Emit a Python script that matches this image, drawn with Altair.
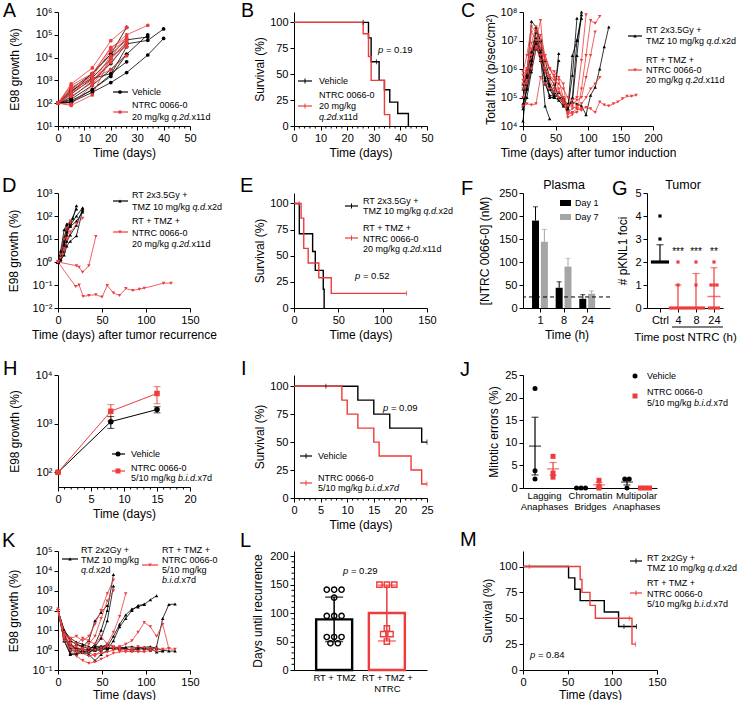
import json
import altair as alt
import pandas as pd

FONT = "Liberation Sans"
RED = "#EE3B3B"
BLK = "#000000"
GRY = "#A6A6A6"
LEG = 9
DUMMY = alt.InlineData(values=[{"k": 0}])
LOGLAB = "'10' + ['⁻²','⁻¹','⁰','¹','²','³','⁴','⁵','⁶','⁷','⁸'][round(log(datum.value)/LN10)+2]"

# ------------------------------------------------------------------ data
A_days = [0, 5, 13, 20, 26, 34, 40]
A_vehicle = [
    [100, 110, 400, 1500, 14000, 100000],
    [100, 420, 2000, 14000, 60000, 80000],
    [100, 180, 900, 5500, 40000, 57000, 180000],
    [100, 110, 300, 800, 2200, 13000, 69000],
    [100, 300, 2000, 14000, 210000],
    [100, 150, 600, 3000, 14000],
    [100, 250, 1200, 2000, 6500],
    [100, 130, 380, 1800, 30000],
    [100, 350, 1300, 9000, 45000],
]
A_ntrc = [
    [100, 700, 3500, 55000, 210000],
    [100, 600, 2000, 25000, 100000, 260000],
    [100, 80, 230, 10000, 80000],
    [100, 500, 1500, 20000, 60000],
    [100, 300, 1000, 6000, 40000],
    [100, 200, 800, 12000, 30000],
    [100, 400, 1200, 3000, 12000],
    [100, 90, 600, 9000, 50000],
    [100, 250, 1800, 28000, 70000],
]
B_veh_t = [0, 28, 29, 32, 34, 36, 39, 43]
B_veh_s = [100, 85, 62, 44, 35, 23, 12, 0]
B_ntrc_t = [0, 26, 28, 29, 34, 36]
B_ntrc_s = [100, 89, 67, 44, 11, 0]
B_veh_cens = [[26, 100], [31, 62]]
B_ntrc_cens = []
C_days = [0, 6, 13, 20, 27, 34, 41, 48, 55, 62, 69, 76, 83, 90, 97, 104, 111, 118,
          125, 132, 139, 146, 153, 160, 167, 174]
C_rt = [
    [1e5, 6e5, 4.7e7, 3e7, 3e6, 5e4, 1.8e4],
    [2e5, 1e6, 3e6, 1.2e7, 5e6, 3e5, 1.2e5, 1.1e5, 3.5e6],
    [1.5e4, 3e5, 2e6, 8e6, 2e6, 4e5, 1e5, 1e5, 1.5e5, 9e4, 4e4, 1e5, 1e7, 8e7],
    [6e4, 2e5, 1e6, 3e7, 1e7, 5e5, 2e5, 1e5, 8e4, 5e4, 4e4, 6e5, 6e7],
    [4e4, 1e5, 8e5, 5e6, 3e6, 1e6, 3e5, 1.5e5, 1e5, 8e4, 5e4, 7e4, 6e4, 5e4, 2.5e4,
     1.2e5, 2.3e5, 1e6, 6e6, 3e7],
    [1e5, 3e5, 2e6, 1e7, 4e6, 1e6, 2.5e5, 1.2e5, 1e5, 1e5, 4e4, 3e6, 1e7, 6e7],
    [5e4, 2e5, 1.5e6, 1e7, 3e6, 1e6, 2e5, 1.5e5, 2e6],
    [3e5, 5e5, 4e6, 2e7, 1e7, 2e6, 5e5, 3e5, 1e5, 6e4, 6e4, 7e4, 3e6, 1e8],
]
C_ntrc = [
    [3e5, 8e5, 2e7, 1e7, 5e7, 1e6, 6e5, 4e5, 3e5, 2e5, 1e5, 8e4, 1e5, 2e6, 8e7],
    [6e5, 1e6, 5e6, 1e7, 3e6, 3e6, 1e6, 8e5, 5e5, 3e5, 2.5e4, 3e4, 3e4, 2e5, 3e6, 5e7, 4e7, 7e7],
    [2e5, 4e5, 3e6, 6e6, 2e6, 8e5, 4e5, 2e5, 1e5, 6e4, 3e4, 4e4, 5e4, 6e4, 1e5, 2e5, 3e5, 5e5],
    [5e4, 6e4, 5.5e4, 6e4, 5e5, 3e5, 2e5, 1.5e5, 1e5, 7e4, 5e4, 5e4, 4e4, 4e4, 4.5e4, 4e4,
     3e4, 7e4, 5.5e4, 5e4, 6e4, 7e4, 9e4, 1.1e5, 1.1e5, 1.2e5],
    [1e5, 3e5, 1e6, 5e6, 1e7, 2e6, 1e6, 5e5, 2e5, 8e4, 2e4, 2.5e4],
    [8e5, 3e6, 3e7, 2e7, 1.5e7, 3e6, 1e6, 6e5, 4e5, 1e5, 5e4, 6e4, 8e4, 1e5, 5e5, 3e6, 2e7],
    [4e5, 1e6, 8e6, 3e7, 5e6, 1e6, 5e5, 3e5, 1.5e5, 1e5, 3e4, 3e4, 4e4, 3.5e4],
]
D_rt_days = [[0, 3, 7, 10, 14, 17, 21], [0, 3, 7, 10, 14, 21, 28], [0, 3, 7, 10, 14, 21, 28],
             [0, 3, 7, 10, 14, 21, 28], [0, 3, 7, 10, 14, 21, 28], [0, 3, 7, 10, 14, 21],
             [0, 3, 7, 10, 14]]
D_rt_vals = [[1, 2, 8, 40, 45, 80, 280], [1, 1.5, 5, 20, 40, 100, 230], [1, 2, 12, 30, 35, 60, 150],
             [1, 1.3, 3, 8, 15, 40, 200], [1, 1.2, 2, 5, 8, 14, 180], [1, 3, 25, 45, 55, 200],
             [1, 2, 6, 15, 50]]
D_ntrc_days = [[0, 3, 7, 10, 14], [0, 7, 14, 21, 28], [0, 21, 24, 28, 35, 43],
               [0, 20, 24, 28.5, 35, 43, 50, 56, 63, 70, 77, 85, 92.5, 98, 120, 128.5],
               [0, 3, 7, 10, 14]]
D_ntrc_vals = [[1, 2, 10, 30, 60], [1, 3, 20, 45, 80], [1, 0.69, 0.59, 0.36, 0.69, 13],
               [1, 0.087, 0.1, 0.032, 0.035, 0.038, 0.03, 0.095, 0.045, 0.035, 0.07, 0.058,
                0.066, 0.073, 0.12, 0.12],
               [1, 1.5, 4, 10, 50]]
E_rt_t = [0, 6, 21, 24, 33, 34]
E_rt_s = [100, 71, 54, 36, 18, 0]
E_ntrc_t = [0, 8, 11, 16, 28, 42, 127]
E_ntrc_s = [100, 86, 57, 43, 29, 14, 14]
E_rt_cens = []
E_ntrc_cens = [[6, 100], [127, 14]]
F_times = ["1", "8", "24"]
F_day1 = [190, 44, 20]
F_day1_sd = [30, 13, 9]
F_day7 = [144, 90, 31]
F_day7_sd = [27, 18, 6]
F_lloq = 24
G_cats = ["Ctrl", "4", "8", "24"]
G_vals = [[4, 3, 2, 2, 2, 2, 2, 2], [2, 1, 0, 0, 0, 0, 0, 0], [2, 1, 0, 0, 0, 0, 0, 0],
          [2, 1, 1, 1, 0, 0, 0, 0]]
G_mid = [2, 0, 0, 0.5]
G_lo = [2, 0, 0, 0]
G_hi = [2.75, 1, 1.5, 1.75]
G_sig = ["", "***", "***", "**"]
H_days = [0, 8, 15]
H_veh = [100, 1100, 1950]
H_veh_sem = [0, 300, 280]
H_ntrc = [100, 1800, 4170]
H_ntrc_sem = [0, 660, 1600]
I_veh_t = [0, 12, 15, 18, 24, 25]
I_veh_s = [100, 87.5, 75, 62.5, 50, 50]
I_ntrc_t = [0, 9, 10, 12, 15, 16, 22, 24, 25]
I_ntrc_s = [100, 87.5, 75, 62.5, 50, 37.5, 25, 12.5, 12.5]
I_veh_cens = [[6, 100], [25, 50]]
I_ntrc_cens = [[25, 12.5]]
J_cats = ["Lagging Anaphases", "Chromatin Bridges", "Multipolar Anaphases"]
J_veh = [[22, 3.8, 2], [0, 0, 0], [2, 2, 0]]
J_ntrc = [[7, 3.3, 2.4], [1.7, 0.4, 0.0], [0, 0, 0]]
K_days = [0, 7, 14, 21, 28, 35, 42, 49, 56, 63, 70, 77, 84, 91, 98, 105, 112, 119, 126, 133]
K_rt = [
    [100, 10, 3, 2, 1.5, 3, 30, 80, 180],
    [100, 5, 2, 1, 0.8, 1, 2, 10, 100, 6600],
    [100, 8, 3, 2, 1.5, 1.2, 1.5, 4, 30, 1700],
    [100, 3, 0.7, 0.7, 0.8, 0.8, 1, 1, 1.2, 1.3, 1.2, 1.4, 1.5, 1.3, 1.4, 1.5, 1.2, 1.0, 0.9, 0.9],
    [100, 5, 1, 1, 0.8, 0.6, 0.3, 0.6, 1, 3, 15, 40, 100, 180, 200, 350, 550],
    [100, 4, 2, 1.2, 1, 1.2, 1.5, 1.6, 1.5, 5, 20, 60, 120, 150, 210],
    [100, 6, 1.2, 1.3, 1.1, 1, 1.2, 1.4, 1.3, 1.2, 1.1, 1.2, 1.0, 1.1, 1.2, 1.0, 1.5, 40, 200, 210],
    [100, 3, 0.6, 0.6, 0.8, 0.9, 1, 1.1, 1.3, 1.2, 1.5, 1.2, 1.0, 1.4, 1.2, 1.3, 0.8, 0.9],
    [100, 10, 4, 2.5, 2, 1.5, 1.2, 1.4, 2, 1.5, 1.3, 1.2],
]
K_ntrc = [
    [120, 5, 4, 5, 3, 5, 20, 100, 700, 3500],
    [100, 8, 3, 2, 1.2, 2, 5, 40, 300, 1000],
    [100, 6, 2, 0.5, 0.3, 0.22, 0.25, 0.35, 0.5, 0.7, 0.8, 0.9, 0.8, 0.9, 0.8, 1, 0.9],
    [100, 4, 2, 1.5, 1, 0.8, 0.5, 1, 2, 8, 50, 700],
    [100, 5, 1.5, 1, 1, 1.2, 1, 1.3, 1.5, 1.2, 1.5, 2, 3, 8, 25, 15, 5, 20, 1.2],
    [100, 3, 1, 0.8, 0.7, 0.5, 0.6, 0.7, 0.8, 1, 1.2, 1, 1.2, 1.5, 1.3, 1.2, 1.2, 1.1, 1.2, 1.1],
    [100, 6, 3, 2, 4, 3, 2, 5, 2, 1.5, 1, 0.8, 1, 0.8, 0.9],
]
L_labels = [["RT + TMZ"], ["RT + TMZ +", "NTRC"]]
L_mean = [89, 100]
L_sd = [39, 49]
L_pts = [[141, 141, 141, 127, 95, 95, 95, 58, 58, 58, 47, 47],
         [150, 150, 150, 73, 63, 63, 50]]
M_rt_t = [0, 51, 58, 64, 91, 107, 127]
M_rt_s = [100, 89, 78, 67, 56, 42, 42]
M_ntrc_t = [0, 64, 66, 75, 81, 122, 126]
M_ntrc_s = [100, 87.5, 75, 62.5, 50, 25, 25]
M_rt_cens = [[113, 42], [127, 42]]
M_ntrc_cens = [[7, 100], [119, 50], [126, 25]]

# ------------------------------------------------------------------ helpers
CW = {" ": .278, "+": .584, "-": .333, ".": .278, "/": .278, "=": .584, "%": .889,
      "C": .722, "D": .722, "G": .778, "M": .833, "N": .722, "R": .722, "T": .611,
      "V": .667, "Z": .611, "a": .556, "b": .556, "c": .5, "d": .556, "e": .556,
      "g": .556, "h": .556, "i": .222, "k": .5, "l": .222, "m": .833, "p": .556,
      "q": .556, "s": .5, "x": .5, "y": .5}


def tw(s, size):
    return sum(CW.get(c, .556) for c in s) * size


def parts(s):
    return [(p, i % 2 == 1) for i, p in enumerate(s.split("_")) if p]


def txt(o, x, y, s, size=LEG, italic=False, color=BLK, align="left", baseline="middle"):
    return alt.Chart(DUMMY).mark_text(
        text=s, font=FONT, fontSize=size, fontStyle="italic" if italic else "normal",
        color=color, fill=color, align=align, baseline=baseline).encode(
        x=alt.value(x - o[0]), y=alt.value(y - o[1]))


def segs(o, x, y, s, size=LEG, color=BLK):
    out, cx = [], x
    for p, it in parts(s):
        lead = len(p) - len(p.lstrip(" "))
        cx += lead * CW[" "] * size
        q = p.strip(" ")
        out.append(txt(o, cx, y, q, size, it, color))
        cx += tw(q, size) + (len(p.rstrip(" ")) != len(p)) * CW[" "] * size
    return out


def leg(o, color, lines, tx, ty0, dy=10, line=None, ym=None, marker=None, msize=14,
        ktick=False, rect=None):
    L = []
    if line:
        x0, x1 = line
        L.append(alt.Chart(DUMMY).mark_rule(color=color, strokeWidth=1.2).encode(
            x=alt.value(x0 - o[0]), x2=alt.value(x1 - o[0]), y=alt.value(ym - o[1])))
        if ktick:
            xm = (x0 + x1) / 2
            L.append(alt.Chart(DUMMY).mark_rule(color=color, strokeWidth=1).encode(
                x=alt.value(xm - o[0]), y=alt.value(ym - o[1] - 2.5), y2=alt.value(ym - o[1] + 2.5)))
    if marker:
        shape, xm = marker
        L.append(alt.Chart(DUMMY).mark_point(shape=shape, filled=True, size=msize, color=color,
                                             opacity=1).encode(
            x=alt.value(xm - o[0]), y=alt.value(ym - o[1])))
    if rect:
        x0, x1, y0, y1 = rect
        L.append(alt.Chart(DUMMY).mark_rect(color=color).encode(
            x=alt.value(x0 - o[0]), x2=alt.value(x1 - o[0]), y=alt.value(y0 - o[1]),
            y2=alt.value(y1 - o[1])))
    for k, s in enumerate(lines):
        L += segs(o, tx, ty0 + k * dy, s)
    return L


def letter(ch, o, pos, size=20):
    return alt.Chart(DUMMY).mark_text(text=ch, font=FONT, fontSize=size, align="left",
                                      baseline="alphabetic", color=BLK, fill=BLK).encode(
        x=alt.value(pos[0] - o[0]), y=alt.value(pos[1] - o[1]))


def Xq(dom, vals, title, field="x", rng=None, **ax):
    sc = dict(domain=dom, nice=False, zero=False)
    if rng:
        sc["range"] = [0, rng]
    return alt.X(f"{field}:Q", scale=alt.Scale(**sc), axis=alt.Axis(values=vals, title=title, **ax))


def Ylog(dom, vals, title, field="y", **ax):
    return alt.Y(f"{field}:Q", scale=alt.Scale(type="log", domain=dom, nice=False),
                 axis=alt.Axis(values=vals, labelExpr=LOGLAB, title=title, **ax))


def Ylin(dom, vals, title, field="y", **ax):
    return alt.Y(f"{field}:Q", scale=alt.Scale(domain=dom, nice=False, zero=False),
                 axis=alt.Axis(values=vals, title=title, **ax))


def minor_x(vals, X, h, size=2.5):
    return alt.Chart(pd.DataFrame({"x": vals})).mark_rule(color=BLK, strokeWidth=1).encode(
        x=X, y=alt.value(h), y2=alt.value(h + size))


def minor_y(vals, Y, size=2.5):
    return alt.Chart(pd.DataFrame({"y": vals})).mark_rule(color=BLK, strokeWidth=1).encode(
        y=Y, x=alt.value(0), x2=alt.value(-size))


GROUPS = ["a", "b"]
COLOR = alt.Color("group:N", scale=alt.Scale(domain=GROUPS, range=[BLK, RED]), legend=None)


def grid_df(days, groups):
    rows = []
    for g, lines in groups:
        for i, vals in enumerate(lines):
            for d, v in zip(days, vals):
                rows.append(dict(x=d, y=v, group=g, id=f"{g}{i}"))
    return pd.DataFrame(rows)


def pair_df(groups):
    rows = []
    for g, dls, vls in groups:
        for i, (ds, vs) in enumerate(zip(dls, vls)):
            for d, v in zip(ds, vs):
                rows.append(dict(x=d, y=v, group=g, id=f"{g}{i}"))
    return pd.DataFrame(rows)


def growth_layers(df, X, Y, shapes, msize=14, lw=0.8):
    base = alt.Chart(df)
    ln = base.mark_line(strokeWidth=lw).encode(x=X, y=Y, color=COLOR, detail="id:N", order="x:Q")
    pt = base.mark_point(filled=True, size=msize, opacity=1).encode(
        x=X, y=Y, color=COLOR,
        shape=alt.Shape("group:N", scale=alt.Scale(domain=GROUPS, range=shapes), legend=None))
    return [ln, pt]


def km_layers(curves, cens, X, Y):
    rows = [dict(x=t, y=s, group=g) for g, ts, ss in curves for t, s in zip(ts, ss)]
    crow = [dict(x=c[0], y=c[1], group=g) for g, cl in cens for c in cl]
    out = [alt.Chart(pd.DataFrame(rows)).mark_line(interpolate="step-after", strokeWidth=1.4).encode(
        x=X, y=Y, color=COLOR, detail="group:N")]
    if crow:
        out.append(alt.Chart(pd.DataFrame(crow)).mark_tick(orient="vertical", size=5, thickness=1).encode(
            x=X, y=Y, color=COLOR))
    return out


def spread(vals, step):
    offs = [0.0] * len(vals)
    seen = {}
    for i, v in enumerate(vals):
        seen.setdefault(v, []).append(i)
    for v, idx in seen.items():
        n = len(idx)
        for k, i in enumerate(idx):
            offs[i] = (k - (n - 1) / 2) * step
    return offs


ORIG = {"A": (58, 14), "B": (294, 14), "C": (523, 14), "D": (58, 195), "E": (294, 195),
        "F": (523, 195), "G": (647, 195), "H": (58, 377), "I": (294, 377), "J": (523, 377),
        "K": (58, 553), "L": (294, 553), "M": (523, 553)}
P = 9.5
CELL3 = 87   # layout width of the third column (C, F, J, M); C/J/M draw wider via scale range

# A
o = ORIG["A"]
XA = Xq([0, 50], [0, 10, 20, 30, 40, 50], "Time (days)")
YA = Ylog([10, 1e6], [10, 100, 1e3, 1e4, 1e5, 1e6], "E98 growth (%)", titlePadding=14)
dfA = grid_df(A_days, [("a", A_vehicle), ("b", A_ntrc)])
A = alt.layer(
    *growth_layers(dfA, XA, YA, ["circle", "circle"]),
    minor_x([v for v in range(0, 51, 2) if v % 10], XA, 114),
    *leg(o, BLK, ["Vehicle"], 132, 94, line=(113, 128), ym=94, marker=("circle", 120)),
    *leg(o, RED, ["NTRC 0066-0", "20 mg/kg _q.2d._x11d"], 132, 107, dy=12, line=(113, 128),
         ym=114, marker=("circle", 120)),
    letter("A", o, (3, 18.5), 19.5),
).properties(width=132, height=114)

# B
o = ORIG["B"]
XB = Xq([0, 50], [0, 10, 20, 30, 40, 50], "Time (days)")
YB = Ylin([0, 110], [0, 25, 50, 75, 100], "Survival (%)", titlePadding=3)
B = alt.layer(
    *km_layers([("a", B_veh_t, B_veh_s), ("b", B_ntrc_t, B_ntrc_s)],
               [("a", B_veh_cens), ("b", B_ntrc_cens)], XB, YB),
    minor_x([v for v in range(0, 51, 2) if v % 10], XB, 114),
    *leg(o, BLK, ["Vehicle"], 319, 83, line=(298, 312), ym=83, ktick=True),
    *leg(o, RED, ["NTRC 0066-0", "20 mg/kg", "_q.2d._x11d"], 319, 97, dy=11, line=(298, 312),
         ym=108, ktick=True),
    *segs(o, 378, 52, "_p_ = 0.19", P),
    letter("B", o, (241, 18.5), 19.5),
).properties(width=133, height=114)

# C
o = ORIG["C"]
XC = Xq([0, 200], [0, 50, 100, 150, 200], "Time (days) after tumor induction", rng=130)
YC = Ylog([1e4, 1e8], [1e4, 1e5, 1e6, 1e7, 1e8], "Total flux (p/sec/cm²)", titlePadding=3)
dfC = grid_df(C_days, [("a", C_rt), ("b", C_ntrc)])
C = alt.layer(
    *growth_layers(dfC, XC, YC, ["triangle-up", "triangle-down"], msize=12),
    *leg(o, BLK, ["RT 2x3.5Gy +", "TMZ 10 mg/kg _q.d._x2d"], 646, 32, dy=11, line=(628, 642),
         ym=38, marker=("triangle-up", 635), msize=12),
    *leg(o, RED, ["RT + TMZ +", "NTRC 0066-0", "20 mg/kg _q.2d._x11d"], 646, 62, dy=10,
         line=(628, 642), ym=72, marker=("triangle-down", 635), msize=12),
    letter("C", o, (461, 18.5), 19.5),
).properties(width=CELL3, height=114)

# D
o = ORIG["D"]
XD = Xq([0, 150], [0, 50, 100, 150], "Time (days) after tumor recurrence")
YD = Ylog([1e-2, 1e3], [1e-2, 1e-1, 1, 10, 100, 1e3], "E98 growth (%)", titlePadding=12)
dfD = pair_df([("a", D_rt_days, D_rt_vals), ("b", D_ntrc_days, D_ntrc_vals)])
D = alt.layer(
    *growth_layers(dfD, XD, YD, ["triangle-up", "triangle-down"], msize=12),
    *leg(o, BLK, ["RT 2x3.5Gy +", "TMZ 10 mg/kg _q.d._x2d"], 132, 197, dy=11.5, line=(113, 128),
         ym=203, marker=("triangle-up", 120), msize=12),
    *leg(o, RED, ["RT + TMZ +", "NTRC 0066-0", "20 mg/kg _q.2d._x11d"], 132, 223, dy=11.5,
         line=(113, 128), ym=234, marker=("triangle-down", 120), msize=12),
    letter("D", o, (2, 194)),
).properties(width=132, height=115)

# E
o = ORIG["E"]
XE = Xq([0, 150], [0, 50, 100, 150], "Time (days)")
YE = Ylin([0, 110], [0, 25, 50, 75, 100], "Survival (%)", titlePadding=3)
E = alt.layer(
    *km_layers([("a", E_rt_t, E_rt_s), ("b", E_ntrc_t, E_ntrc_s)],
               [("a", E_rt_cens), ("b", E_ntrc_cens)], XE, YE),
    *leg(o, BLK, ["RT 2x3.5Gy +", "TMZ 10 mg/kg _q.d._x2d"], 363, 203, dy=10, line=(345, 358),
         ym=208, ktick=True),
    *leg(o, RED, ["RT + TMZ +", "NTRC 0066-0", "20 mg/kg _q.2d._x11d"], 363, 230, dy=10.5,
         line=(345, 358), ym=240, ktick=True),
    *segs(o, 355, 278, "_p_ = 0.52", P),
    letter("E", o, (240, 194)),
).properties(width=133, height=115)

# F
o = ORIG["F"]
fpx = 26.7
dfF = pd.DataFrame(
    [dict(x=i - 5 / fpx, day="Day 1", y=v, hi=v + e) for i, (v, e) in enumerate(zip(F_day1, F_day1_sd))] +
    [dict(x=i + 5 / fpx, day="Day 7", y=v, hi=v + e) for i, (v, e) in enumerate(zip(F_day7, F_day7_sd))])
XF = Xq([-0.506, 2.753], [0, 1, 2], "Time (h)", labelExpr=json.dumps(F_times) + "[datum.value]")
FCOL = alt.Color("day:N", scale=alt.Scale(domain=["Day 1", "Day 7"], range=[BLK, GRY]), legend=None)
YF = lambda f: Ylin([0, 250], [0, 50, 100, 150, 200, 250], "[NTRC 0066-0] (nM)", field=f, titlePadding=7)
F = alt.layer(
    alt.Chart(dfF).mark_bar(size=7).encode(x=XF, y=YF("y"), color=FCOL),
    alt.Chart(dfF).mark_rule(strokeWidth=1).encode(x=XF, y=YF("y"), y2="hi:Q", color=FCOL),
    alt.Chart(dfF).mark_tick(orient="horizontal", size=5, thickness=1).encode(
        x=XF, y=YF("hi"), color=FCOL),
    alt.Chart(pd.DataFrame({"y": [F_lloq]})).mark_rule(strokeDash=[4, 3], color=BLK, strokeWidth=1).encode(y=YF("y")),
    *leg(o, BLK, ["Day 1"], 575, 205, rect=(560, 571, 202, 208)),
    *leg(o, GRY, ["Day 7"], 575, 219, rect=(560, 571, 216, 222)),
    txt(o, 564, 187, "Plasma", size=12.5, align="center", color=BLK),
    letter("F", o, (461, 197)),
).properties(width=CELL3, height=115)

# G
o = ORIG["G"]
gstep = 3 / 18.0
rows = []
for i, vals in enumerate(G_vals):
    for v, off in zip(vals, spread(vals, gstep)):
        rows.append(dict(x=i + off, y=v, group="a" if i == 0 else "b"))
dfG = pd.DataFrame(rows)
dfGs = pd.DataFrame(dict(x=list(range(4)), mid=G_mid, lo=G_lo, hi=G_hi, sig=G_sig,
                         group=["a", "b", "b", "b"], ys=[2.45] * 4))
XG = Xq([-0.72, 3.5], [0, 1, 2, 3], "Time post NTRC (h)",
        labelExpr=json.dumps(G_cats) + "[datum.value]", titlePadding=6, titleFontSize=11.5)
YG = lambda f: Ylin([0, 5], [0, 1, 2, 3, 4, 5], "# pKNL1 foci", field=f, titlePadding=5)
G = alt.layer(
    alt.Chart(dfGs).mark_rule(strokeWidth=1.2).encode(x=XG, y=YG("lo"), y2="hi:Q", color=COLOR),
    alt.Chart(dfGs).mark_tick(orient="horizontal", size=13, thickness=1.5).encode(x=XG, y=YG("mid"), color=COLOR),
    alt.Chart(dfGs).mark_tick(orient="horizontal", size=7, thickness=1.2).encode(x=XG, y=YG("hi"), color=COLOR),
    alt.Chart(dfG).mark_square(size=10, opacity=1).encode(x=XG, y=YG("y"), color=COLOR),
    alt.Chart(dfGs).mark_text(font=FONT, fontSize=10, baseline="middle", color=BLK, fill=BLK).encode(
        x=XG, y=YG("ys"), text="sig:N"),
    alt.Chart(DUMMY).mark_rule(color=BLK, strokeWidth=1).encode(
        x=alt.value(25), x2=alt.value(76), y=alt.value(134)),
    txt(o, 683, 187, "Tumor", size=12.5, align="center", color=BLK),
    letter("G", o, (612, 197)),
).properties(width=76, height=115)

# H
o = ORIG["H"]
dfH = pd.DataFrame(
    [dict(x=d, y=m, lo=m - s, hi=m + s, group="a", err=s) for d, m, s in zip(H_days, H_veh, H_veh_sem)] +
    [dict(x=d, y=m, lo=m - s, hi=m + s, group="b", err=s) for d, m, s in zip(H_days, H_ntrc, H_ntrc_sem)])
dfHe = dfH[dfH["err"] > 0]
XH = Xq([0, 20], [0, 5, 10, 15, 20], "Time (days)")
YH = lambda f: Ylog([50, 1e4], [100, 1e3, 1e4], "E98 growth (%)", field=f, titlePadding=14)
H = alt.layer(
    alt.Chart(dfH).mark_line(strokeWidth=1).encode(x=XH, y=YH("y"), color=COLOR),
    alt.Chart(dfHe).mark_rule(strokeWidth=1).encode(x=XH, y=YH("lo"), y2="hi:Q", color=COLOR),
    alt.Chart(dfHe).mark_tick(orient="horizontal", size=7, thickness=1).encode(x=XH, y=YH("lo"), color=COLOR),
    alt.Chart(dfHe).mark_tick(orient="horizontal", size=7, thickness=1).encode(x=XH, y=YH("hi"), color=COLOR),
    alt.Chart(dfH).mark_point(filled=True, size=30, opacity=1).encode(
        x=XH, y=YH("y"), color=COLOR,
        shape=alt.Shape("group:N", scale=alt.Scale(domain=GROUPS, range=["circle", "square"]), legend=None)),
    minor_x([v for v in range(0, 21) if v % 5], XH, 112),
    *leg(o, BLK, ["Vehicle"], 131, 456, line=(112, 125), ym=456, marker=("circle", 118), msize=25),
    *leg(o, RED, ["NTRC 0066-0", "5/10 mg/kg _b.i.d._x7d"], 131, 470, dy=10, line=(112, 125),
         ym=473, marker=("square", 118), msize=25),
    letter("H", o, (3, 377)),
).properties(width=132, height=112)

# I
o = ORIG["I"]
XI = Xq([0, 25], [0, 5, 10, 15, 20, 25], "Time (days)")
YI = Ylin([0, 110], [0, 25, 50, 75, 100], "Survival (%)", titlePadding=3)
I = alt.layer(
    *km_layers([("a", I_veh_t, I_veh_s), ("b", I_ntrc_t, I_ntrc_s)],
               [("a", I_veh_cens), ("b", I_ntrc_cens)], XI, YI),
    minor_x([v for v in range(0, 26) if v % 5], XI, 123),
    *leg(o, BLK, ["Vehicle"], 318, 458, line=(300, 312), ym=458, ktick=True),
    *leg(o, RED, ["NTRC 0066-0", "5/10 mg/kg _b.i.d.x7d_"], 318, 480, dy=10, line=(300, 312),
         ym=485, ktick=True),
    *segs(o, 383, 410, "_p_ = 0.09", P),
    letter("I", o, (241, 377)),
).properties(width=133, height=123)

# J
o = ORIG["J"]
jpx = 134 / (2.457 + 0.457)
rows, srows = [], []
for i in range(3):
    for g, pts, dx in (("a", J_veh[i], -9), ("b", J_ntrc[i], 9)):
        for v, off in zip(pts, spread(pts, 4.5 / jpx)):
            rows.append(dict(x=i + dx / jpx + off, y=v, group=g))
        s = pd.Series(pts, dtype=float)
        m, se = s.mean(), s.std() / len(s) ** 0.5
        srows.append(dict(x=i + dx / jpx, m=m, lo=max(m - se, 0), hi=m + se, group=g))
dfJ, dfJs = pd.DataFrame(rows), pd.DataFrame(srows)
XJ = Xq([-0.457, 2.457], [0, 1, 2], None, rng=134, ticks=False,
        labelExpr=json.dumps([c.split(" ") for c in J_cats]) + "[datum.value]", labelFontSize=9.5)
YJ = lambda f: Ylin([0, 25], [0, 5, 10, 15, 20, 25], "Mitotic errors (%)", field=f, titlePadding=4)
J = alt.layer(
    alt.Chart(dfJs).mark_rule(strokeWidth=1.2).encode(x=XJ, y=YJ("lo"), y2="hi:Q", color=COLOR),
    alt.Chart(dfJs).mark_tick(orient="horizontal", size=12, thickness=1.3).encode(x=XJ, y=YJ("m"), color=COLOR),
    alt.Chart(dfJs).mark_tick(orient="horizontal", size=7, thickness=1.2).encode(x=XJ, y=YJ("hi"), color=COLOR),
    alt.Chart(dfJs).mark_tick(orient="horizontal", size=7, thickness=1.2).encode(x=XJ, y=YJ("lo"), color=COLOR),
    alt.Chart(dfJ).mark_point(filled=True, size=25, opacity=1).encode(
        x=XJ, y=YJ("y"), color=COLOR,
        shape=alt.Shape("group:N", scale=alt.Scale(domain=GROUPS, range=["circle", "square"]), legend=None)),
    *leg(o, BLK, ["Vehicle"], 647, 378, ym=378, marker=("circle", 635), msize=25),
    *leg(o, RED, ["NTRC 0066-0", "5/10 mg/kg _b.i.d._x7d"], 647, 394, dy=11, ym=398,
         marker=("square", 635), msize=25),
    letter("J", o, (460, 378)),
).properties(width=CELL3, height=113)

# K
o = ORIG["K"]
XK = Xq([0, 150], [0, 50, 100, 150], "Time (days)", titlePadding=2)
YK = Ylog([0.1, 1e5], [0.1, 1, 10, 100, 1e3, 1e4, 1e5], "E98 growth (%)", titlePadding=12)
dfK = grid_df(K_days, [("a", K_rt), ("b", K_ntrc)])
K = alt.layer(
    *growth_layers(dfK, XK, YK, ["triangle-up", "triangle-down"], msize=12),
    *leg(o, BLK, ["RT 2x2Gy +", "TMZ 10 mg/kg", "_q.d._x2d"], 81, 552, dy=10, line=(62, 78),
         ym=561, marker=("triangle-up", 70), msize=12),
    *leg(o, RED, ["RT + TMZ +", "NTRC 0066-0", "5/10 mg/kg", "_b.i.d._x7d"], 162, 552, dy=10,
         line=(142, 158), ym=567, marker=("triangle-down", 150), msize=12),
    letter("K", o, (2, 549)),
).properties(width=132, height=119)

# L
o = ORIG["L"]
lpx = 57.0
rows = []
for i, pts in enumerate(L_pts):
    for v, off in zip(pts, spread(pts, 8 / lpx)):
        rows.append(dict(x=i + off, y=v, group=GROUPS[i]))
dfL = pd.DataFrame(rows)
dfLs = pd.DataFrame(dict(x=[0, 1], y=L_mean, lo=[m - s for m, s in zip(L_mean, L_sd)],
                         hi=[m + s for m, s in zip(L_mean, L_sd)], group=GROUPS))
XL = Xq([-0.667, 1.667], [0, 1], None, ticks=False, labelFontSize=9.5,
        labelExpr=json.dumps(L_labels) + "[datum.value]")
YL = lambda f: Ylin([0, 209], [0, 50, 100, 150, 200], "Days until recurrence", field=f, titlePadding=5)
L = alt.layer(
    alt.Chart(dfLs).mark_bar(size=36, fill="white", strokeWidth=2.4).encode(
        x=XL, y=YL("y"), stroke=alt.Stroke("group:N", scale=alt.Scale(domain=GROUPS, range=[BLK, RED]), legend=None)),
    alt.Chart(dfLs).mark_rule(strokeWidth=1.5).encode(x=XL, y=YL("lo"), y2="hi:Q", color=COLOR),
    alt.Chart(dfLs).mark_tick(orient="horizontal", size=18, thickness=1.5).encode(x=XL, y=YL("lo"), color=COLOR),
    alt.Chart(dfLs).mark_tick(orient="horizontal", size=18, thickness=1.5).encode(x=XL, y=YL("hi"), color=COLOR),
    alt.Chart(dfL).mark_point(filled=False, size=28, strokeWidth=1.4, opacity=1).encode(
        x=XL, y=YL("y"), color=COLOR,
        shape=alt.Shape("group:N", scale=alt.Scale(domain=GROUPS, range=["circle", "square"]), legend=None)),
    minor_y([v for v in range(10, 201, 10) if v % 50], YL("y")),
    *segs(o, 343, 573, "_p_ = 0.29", P),
    letter("L", o, (240, 549)),
).properties(width=133, height=119)

# M
o = ORIG["M"]
XM = Xq([0, 150], [0, 50, 100, 150], "Time (days)", rng=134, titlePadding=2)
YM = Ylin([0, 115], [0, 25, 50, 75, 100], "Survival (%)", titlePadding=4)
M = alt.layer(
    *km_layers([("a", M_rt_t, M_rt_s), ("b", M_ntrc_t, M_ntrc_s)],
               [("a", M_rt_cens), ("b", M_ntrc_cens)], XM, YM),
    *leg(o, BLK, ["RT 2x2Gy +", "TMZ 10 mg/kg _q.d._x2d"], 647, 560, dy=9.5, line=(630, 642),
         ym=563, ktick=True),
    *leg(o, RED, ["RT + TMZ +", "NTRC 0066-0", "5/10 mg/kg _b.i.d._x7d"], 647, 585, dy=10.5,
         line=(630, 642), ym=595, ktick=True),
    *segs(o, 530, 657, "_p_ = 0.84", P),
    letter("M", o, (460, 548)),
).properties(width=CELL3, height=119)


# layout
def sp(w, h=1):
    return alt.Chart(DUMMY).mark_rule(opacity=0).encode(
        x=alt.value(0), x2=alt.value(0), y=alt.value(0)).properties(width=w, height=h)


items = [A, sp(104, 181), B, sp(96), C, sp(1), sp(1),
         D, sp(104, 182), E, sp(96), F, sp(37), G,
         H, sp(104, 176), I, sp(96), J, sp(1), sp(1),
         K, sp(104), L, sp(96), M, sp(1), sp(1)]

chart = alt.concat(*items, columns=7, spacing=0, align="each", bounds="flush").resolve_scale(
    color="independent", shape="independent", stroke="independent"
).properties(
    padding={"left": 2, "top": 0, "right": -1, "bottom": 0}, background="white"
).configure_view(stroke=None).configure_axis(
    labelFont=FONT, titleFont=FONT, labelFontSize=11, titleFontSize=12, titleFontWeight="normal",
    labelColor=BLK, titleColor=BLK, domainColor=BLK, tickColor=BLK, domainWidth=1, tickWidth=1,
    tickSize=4, grid=False, labelPadding=2, labelFlush=False, labelOverlap=False
).configure_title(font=FONT, color=BLK)

chart.save("out.html", embed_options={"renderer": "svg", "actions": False})
